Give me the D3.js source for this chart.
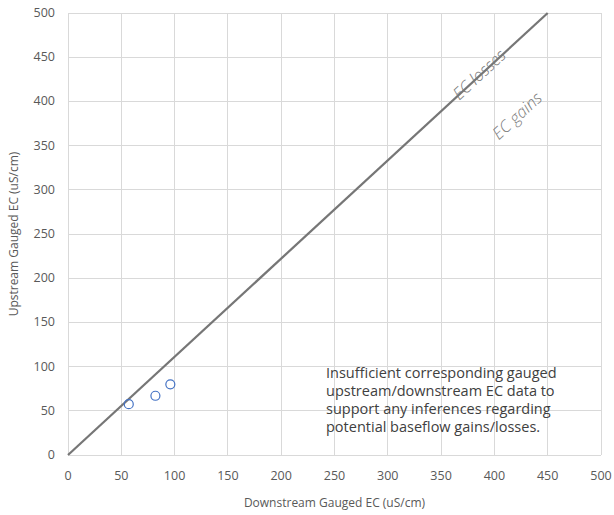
<!DOCTYPE html>
<html>
<head>
<meta charset="utf-8">
<script src="https://cdn.jsdelivr.net/npm/d3@7"></script>
<style>
  body { margin: 0; background: #fff; }
  text { font-family: "Open Sans", "Liberation Sans", sans-serif; }
</style>
</head>
<body>
<div id="chart"></div>
<script>
const downstreamEC = [57, 82, 96]
const upstreamEC = [57.5, 67, 80]
const lineX = [0, 450]
const lineY = [0, 500]
const ticks = [0, 50, 100, 150, 200, 250, 300, 350, 400, 450, 500]
const note = [
  'Insufficient corresponding gauged',
  'upstream/downstream EC data to',
  'support any inferences regarding',
  'potential baseflow gains/losses.'
]

const width = 614
const height = 515
const margin = { top: 13, right: 13, bottom: 60, left: 68 }

const svg = d3.select('#chart')
  .append('svg')
  .attr('width', width)
  .attr('height', height)

const x = d3.scaleLinear().domain([0, 500]).range([margin.left, width - margin.right])
const y = d3.scaleLinear().domain([0, 500]).range([height - margin.bottom, margin.top])

// gridlines
svg.append('g')
  .selectAll('line')
  .data(ticks)
  .join('line')
  .attr('x1', d => x(d)).attr('x2', d => x(d))
  .attr('y1', y(0)).attr('y2', y(500))
  .attr('stroke', '#d9d9d9')
  .attr('shape-rendering', 'crispEdges')

svg.append('g')
  .selectAll('line')
  .data(ticks)
  .join('line')
  .attr('x1', x(0)).attr('x2', x(500))
  .attr('y1', d => y(d)).attr('y2', d => y(d))
  .attr('stroke', '#d9d9d9')
  .attr('shape-rendering', 'crispEdges')

// tick labels
svg.append('g')
  .selectAll('text')
  .data(ticks)
  .join('text')
  .attr('x', d => x(d))
  .attr('y', y(0) + 25)
  .attr('text-anchor', 'middle')
  .attr('font-size', 12.5)
  .attr('fill', '#595959')
  .text(d => d)

svg.append('g')
  .selectAll('text')
  .data(ticks)
  .join('text')
  .attr('x', x(0) - 13)
  .attr('y', d => y(d) + 4)
  .attr('text-anchor', 'end')
  .attr('font-size', 12.5)
  .attr('fill', '#595959')
  .text(d => d)

// axis titles
svg.append('text')
  .attr('x', (x(0) + x(500)) / 2)
  .attr('y', height - 8)
  .attr('text-anchor', 'middle')
  .attr('font-size', 12)
  .attr('fill', '#595959')
  .text('Downstream Gauged EC (uS/cm)')

svg.append('text')
  .attr('transform', `translate(18,${(y(0) + y(500)) / 2}) rotate(-90)`)
  .attr('text-anchor', 'middle')
  .attr('font-size', 12)
  .attr('fill', '#595959')
  .text('Upstream Gauged EC (uS/cm)')

// 1:1 reference line
const line = d3.line()
  .x((d, i) => x(lineX[i]))
  .y(d => y(d))

svg.append('path')
  .datum(lineY)
  .attr('d', line)
  .attr('fill', 'none')
  .attr('stroke', '#767676')
  .attr('stroke-width', 2.25)

const angle = Math.atan2(y(lineY[0]) - y(lineY[1]), x(lineX[1]) - x(lineX[0])) * 180 / Math.PI

svg.append('text')
  .attr('transform', `translate(${x(386)},${y(430)}) rotate(${-angle})`)
  .attr('dy', '0.32em')
  .attr('text-anchor', 'middle')
  .attr('font-size', 16.5)
  .attr('font-style', 'italic')
  .attr('font-weight', 300)
  .attr('fill', '#7a7a7a')
  .text('EC losses')

svg.append('text')
  .attr('transform', `translate(${x(425)},${y(379)}) rotate(${-angle})`)
  .attr('text-anchor', 'middle')
  .attr('font-size', 16.5)
  .attr('font-style', 'italic')
  .attr('font-weight', 300)
  .attr('fill', '#7a7a7a')
  .text('EC gains')

// data points
svg.append('g')
  .selectAll('circle')
  .data(downstreamEC)
  .join('circle')
  .attr('cx', d => x(d))
  .attr('cy', (d, i) => y(upstreamEC[i]))
  .attr('r', 4.5)
  .attr('fill', 'none')
  .attr('stroke', '#4472c4')
  .attr('stroke-width', 1.2)

// note
svg.append('text')
  .attr('y', 378)
  .attr('font-size', 14.5)
  .attr('fill', '#404040')
  .selectAll('tspan')
  .data(note)
  .join('tspan')
  .attr('x', 326)
  .attr('dy', (d, i) => i === 0 ? 0 : 18)
  .text(d => d)
</script>
</body>
</html>
